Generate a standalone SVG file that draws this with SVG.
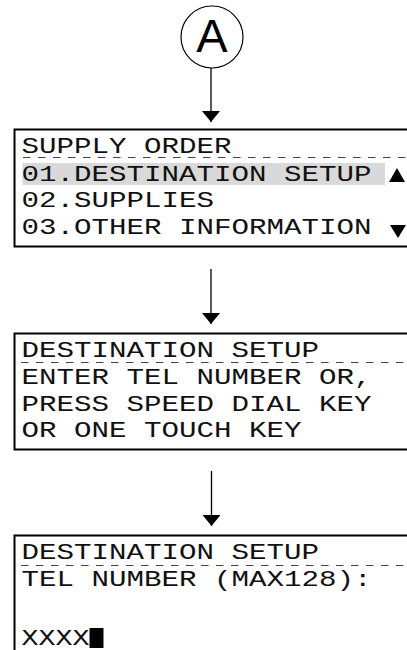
<svg xmlns="http://www.w3.org/2000/svg" width="407" height="650" viewBox="0 0 407 650">
<style>
.box{fill:#fff;stroke:#000;stroke-width:2}
.lcd{font-family:"Liberation Mono","Courier New",monospace;font-size:22px;fill:#111}
.dash{stroke:#444;stroke-width:1;stroke-dasharray:7.5 7.5}
.conn{stroke:#000;stroke-width:1.3;fill:none}
.tri{fill:#000}
</style>
<defs>
<marker id="ah" viewBox="0 0 11 18" refX="11" refY="9" markerWidth="11" markerHeight="18" markerUnits="userSpaceOnUse" orient="auto">
<path d="M0,0 L11,9 L0,18 z" fill="#000"/>
</marker>
</defs>
<rect width="407" height="650" fill="#fff"/>
<g id="connectorA">
<circle cx="212" cy="37" r="31" fill="#fff" stroke="#000" stroke-width="1.2"/>
<text x="212" y="52" text-anchor="middle" font-family="Liberation Sans, Arial, sans-serif" font-size="47" fill="#000">A</text>
</g>
<g id="connectors">
<line class="conn" x1="211" y1="68" x2="211" y2="122" marker-end="url(#ah)"/>
<line class="conn" x1="211" y1="269" x2="211" y2="324" marker-end="url(#ah)"/>
<line class="conn" x1="211.5" y1="471" x2="211.5" y2="526" marker-end="url(#ah)"/>
</g>
<g id="screen1">
<rect class="box" x="14.5" y="129.5" width="420" height="117"/>
<rect x="22.5" y="163" width="362.5" height="22" fill="#d9d9d9"/>
<line class="dash" x1="23" y1="157.5" x2="407" y2="157.5"/>
<text class="lcd" x="21.5" y="153" textLength="210" lengthAdjust="spacingAndGlyphs">SUPPLY ORDER</text>
<text class="lcd" x="21.5" y="180.5" textLength="350" lengthAdjust="spacingAndGlyphs">01.DESTINATION SETUP</text>
<text class="lcd" x="21.5" y="207" textLength="192.5" lengthAdjust="spacingAndGlyphs">02.SUPPLIES</text>
<text class="lcd" x="21.5" y="234" textLength="350" lengthAdjust="spacingAndGlyphs">03.OTHER INFORMATION</text>
<polygon class="tri" points="389,182 405,182 397,168"/>
<polygon class="tri" points="390,225 406,225 398,238"/>
</g>
<g id="screen2">
<rect class="box" x="14.5" y="333.5" width="420" height="116"/>
<line class="dash" x1="21" y1="362.5" x2="407" y2="362.5"/>
<text class="lcd" x="21.5" y="357" textLength="297.5" lengthAdjust="spacingAndGlyphs">DESTINATION SETUP</text>
<text class="lcd" x="21.5" y="384" textLength="350" lengthAdjust="spacingAndGlyphs">ENTER TEL NUMBER OR,</text>
<text class="lcd" x="21.5" y="410.5" textLength="350" lengthAdjust="spacingAndGlyphs">PRESS SPEED DIAL KEY</text>
<text class="lcd" x="21.5" y="437" textLength="280" lengthAdjust="spacingAndGlyphs">OR ONE TOUCH KEY</text>
</g>
<g id="screen3">
<rect class="box" x="14.5" y="535.5" width="420" height="130"/>
<line class="dash" x1="21" y1="565.5" x2="407" y2="565.5"/>
<text class="lcd" x="21.5" y="559" textLength="297.5" lengthAdjust="spacingAndGlyphs">DESTINATION SETUP</text>
<text class="lcd" x="21.5" y="586" textLength="350" lengthAdjust="spacingAndGlyphs">TEL NUMBER (MAX128):</text>
<text class="lcd" x="21.5" y="645" textLength="68" lengthAdjust="spacingAndGlyphs">XXXX</text>
<rect x="89.5" y="628" width="14" height="20" fill="#000"/>
</g>
</svg>
